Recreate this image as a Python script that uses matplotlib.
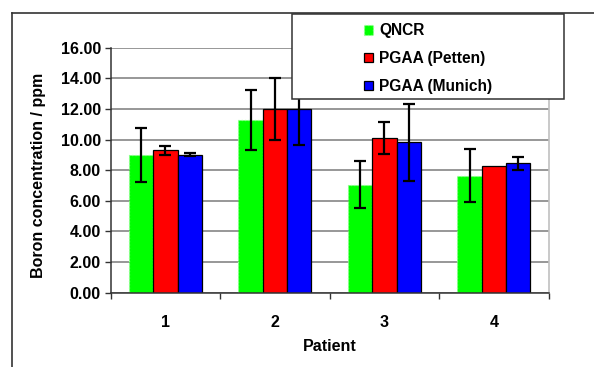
import matplotlib
matplotlib.use("Agg")
import matplotlib.pyplot as plt
from matplotlib.patches import Rectangle
from matplotlib.lines import Line2D
import numpy as np

plt.rcParams['font.family'] = ['Liberation Sans', 'DejaVu Sans']

# Datos del gráfico
pacientes = ["1", "2", "3", "4"]
series = ["QNCR", "PGAA (Petten)", "PGAA (Munich)"]
qncr = [9.00, 11.28, 7.05, 7.65]
qncr_err = [1.75, 1.95, 1.55, 1.73]
petten = [9.30, 12.00, 10.10, 8.25]
petten_err = [0.30, 2.05, 1.07, 0.0]
munich = [9.02, 12.00, 9.82, 8.45]
munich_err = [0.10, 2.35, 2.50, 0.42]
yticks = [0, 2, 4, 6, 8, 10, 12, 14, 16]

colores = ["#00ff00", "#ff0000", "#0000ff"]
bordes = ["#90ff90", "black", "black"]

W, H = 594, 367
fs = 11.5
fig = plt.figure(figsize=(W / 100, H / 100), dpi=100)
ax = fig.add_axes([110.7 / W, 1 - 292.7 / H, 438 / W, 245 / H])

x = np.arange(1, len(pacientes) + 1)
ancho = 0.222
valores = [qncr, petten, munich]
errores = [qncr_err, petten_err, munich_err]
handles = []
for i, (v, e) in enumerate(zip(valores, errores)):
    pos = x + (i - 1) * ancho
    ls = ":" if i == 0 else "-"
    b = ax.bar(pos, v, width=ancho, color=colores[i], edgecolor=bordes[i],
               linewidth=0.9, linestyle=ls, zorder=2)
    handles.append(b)
    err = np.array(e)
    mask = err > 0
    ax.errorbar(pos[mask], np.array(v)[mask], yerr=err[mask], fmt="none",
                ecolor="black", elinewidth=1.6, capsize=4, capthick=1.6, zorder=3)

# Ejes
ax.set_xlim(0.5, 4.5)
ax.set_ylim(0, 16)
ax.set_yticks(yticks)
ax.set_yticklabels([f"{t:.2f}" for t in yticks], fontsize=fs, fontweight="bold")
ax.set_xticks(x)
ax.set_xticklabels(pacientes, fontsize=fs, fontweight="bold")
ax.set_xticks(np.arange(0.5, 4.6, 1), minor=True)
ax.tick_params(axis="x", which="major", length=0, pad=16)
ax.tick_params(axis="x", which="minor", length=4, width=1, direction="out", color="#333333")
ax.tick_params(axis="y", length=4, width=1, direction="out", pad=3, color="#333333")
ax.grid(axis="y", color="#7a7a7a", linewidth=1.1, zorder=0)
ax.set_axisbelow(True)
for lado in ["left", "bottom"]:
    ax.spines[lado].set_color("#333333")
    ax.spines[lado].set_linewidth(1.1)
ax.spines["top"].set_visible(False)
ax.spines["right"].set_color("#c0c0c0")
ax.spines["right"].set_linewidth(1.2)

fig.text(329.7 / W, 1 - 346.7 / H, "Patient", ha="center", va="center",
         fontsize=fs, fontweight="bold")
fig.text(39 / W, 1 - 175.5 / H, "Boron concentration / ppm", ha="center", va="center",
         rotation=90, fontsize=fs, fontweight="bold")

# Borde exterior (solo arriba e izquierda visibles)
fig.add_artist(Line2D([12 / W, 12 / W], [0, 1 - 12.7 / H], transform=fig.transFigure,
                      color="#333333", linewidth=1.2))
fig.add_artist(Line2D([12 / W, 1], [1 - 12.7 / H, 1 - 12.7 / H], transform=fig.transFigure,
                      color="#333333", linewidth=1.2))

# Leyenda
fig.add_artist(Rectangle((292.3 / W, 1 - 98.7 / H), 271.7 / W, 84.7 / H,
                         transform=fig.transFigure, facecolor="white",
                         edgecolor="#333333", linewidth=1.1, zorder=5))
leg = fig.legend(handles, series, loc="upper left",
                 bbox_to_anchor=(352 / W, 1 - 11 / H), frameon=False,
                 prop={"weight": "bold", "size": 11.2},
                 handlelength=0.55, handleheight=0.55, handletextpad=0.4,
                 labelspacing=0.82, borderpad=0.3)
leg.set_zorder(6)

fig.savefig("out.png", dpi=100)
